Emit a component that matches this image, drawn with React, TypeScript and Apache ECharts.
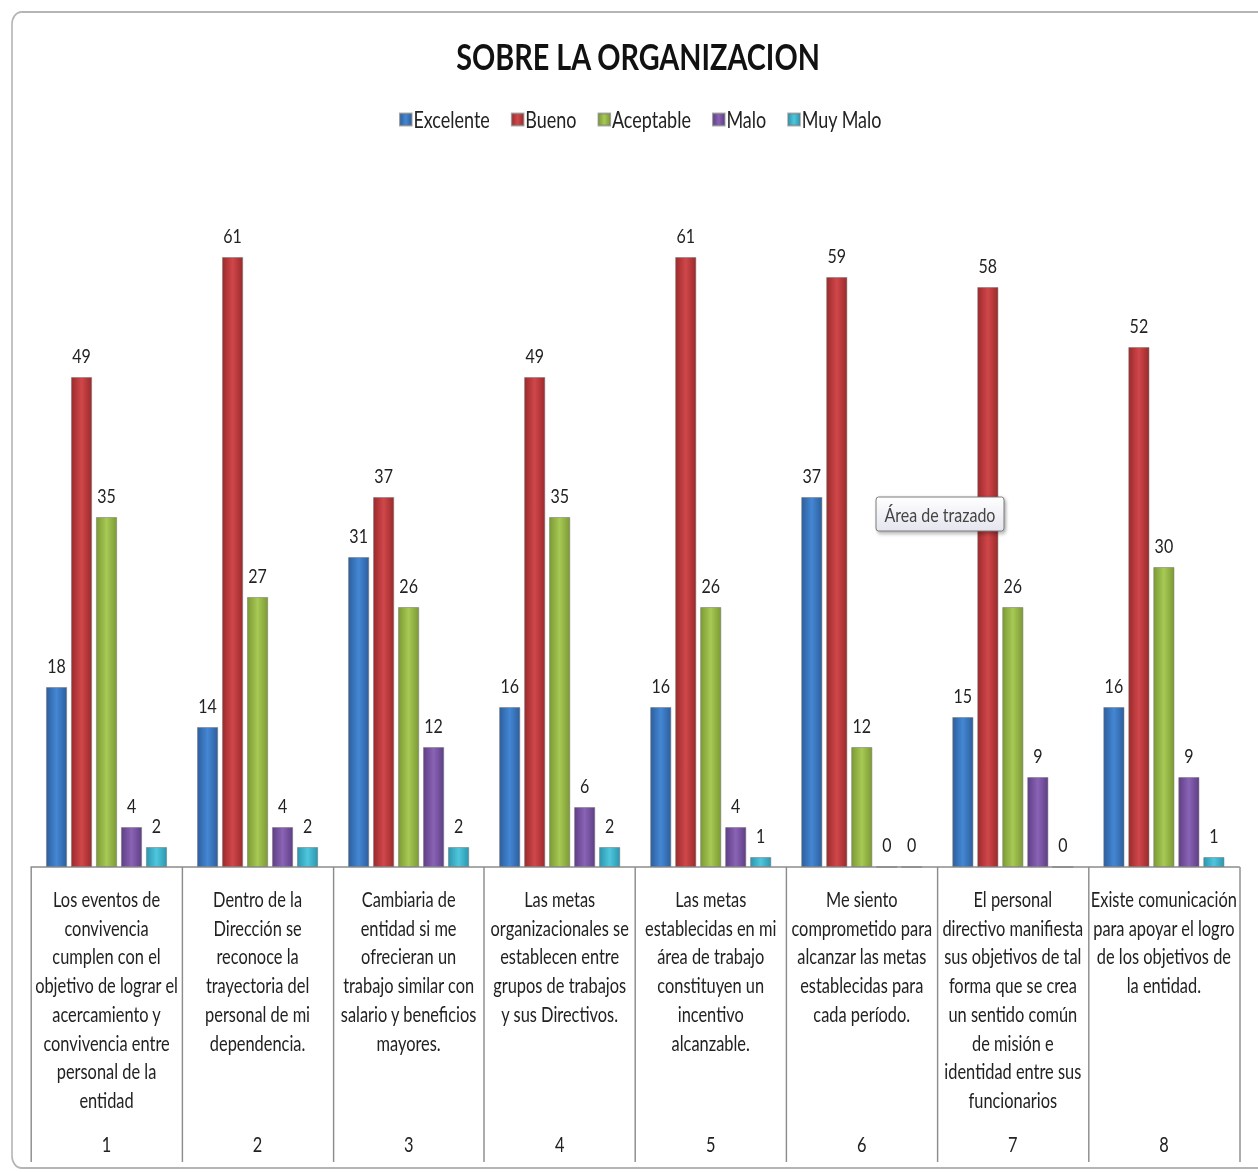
import React, { useEffect, useRef } from "react";
import * as echarts from "echarts";

const categories = [
  "Los eventos de\nconvivencia\ncumplen con el\nobjetivo de lograr el\nacercamiento y\nconvivencia entre\npersonal de la\nentidad",
  "Dentro de la\nDirección se\nreconoce la\ntrayectoria del\npersonal de mi\ndependencia.",
  "Cambiaria de\nentidad si me\nofrecieran un\ntrabajo similar con\nsalario y beneficios\nmayores.",
  "Las metas\norganizacionales se\nestablecen entre\ngrupos de trabajos\ny sus Directivos.",
  "Las metas\nestablecidas en mi\nárea de trabajo\nconstituyen un\nincentivo\nalcanzable.",
  "Me siento\ncomprometido para\nalcanzar las metas\nestablecidas para\ncada período.",
  "El personal\ndirectivo manifiesta\nsus objetivos de tal\nforma que se crea\nun sentido común\nde misión e\nidentidad entre sus\nfuncionarios",
  "Existe comunicación\npara apoyar el logro\nde los objetivos de\nla entidad.",
];
const categoryNumbers = ["1", "2", "3", "4", "5", "6", "7", "8"];

const seriesNames = ["Excelente", "Bueno", "Aceptable", "Malo", "Muy Malo"];
const excelente = [18, 14, 31, 16, 16, 37, 15, 16];
const bueno = [49, 61, 37, 49, 61, 59, 58, 52];
const aceptable = [35, 27, 26, 35, 26, 12, 26, 30];
const malo = [4, 4, 12, 6, 4, 0, 9, 9];
const muyMalo = [2, 2, 2, 2, 1, 0, 0, 1];

const seriesData = [excelente, bueno, aceptable, malo, muyMalo];
const colors = [
  ["#2d5f9e", "#4487d4", "#2d5f9e"],
  ["#9c2a2c", "#d0474a", "#9c2a2c"],
  ["#7c9a34", "#a7c955", "#7c9a34"],
  ["#5f3f86", "#8a63b5", "#5f3f86"],
  ["#2b97b0", "#4fc6dc", "#2b97b0"],
];

const FONT = "Lato, 'Liberation Sans', sans-serif";
// Excel-like condensed look: the whole drawing is squeezed horizontally
const SX = 0.8;
const W = 1258 / SX;
const H = 1172;
const px = (v: number) => v / SX; // page x -> internal x

export default function App() {
  const ref = useRef<HTMLDivElement>(null);
  useEffect(() => {
    document.body.style.margin = "0";
    const chart = echarts.init(ref.current!, undefined, { renderer: "svg" });
    const grad = (c: string[]) =>
      new echarts.graphic.LinearGradient(0, 0, 1, 0, [
        { offset: 0, color: c[0] },
        { offset: 0.5, color: c[1] },
        { offset: 1, color: c[2] },
      ]);
    chart.setOption({
      animation: false,
      backgroundColor: "#ffffff",
      title: {
        text: "SOBRE LA ORGANIZACION",
        left: px(634),
        textAlign: "center",
        top: 33,
        textStyle: { fontFamily: FONT, fontSize: 36, fontWeight: "bold", color: "#111" },
      },
      legend: {
        top: 103,
        left: px(395),
        itemWidth: px(12),
        itemHeight: 12,
        itemGap: px(21),
        icon: "rect",
        textStyle: { fontFamily: FONT, fontSize: 22.5, color: "#222", padding: [0, 0, 0, -3] },
        data: seriesNames,
      },
      grid: { left: px(31), right: W - px(1239), top: 167, bottom: 305, containLabel: false },
      xAxis: [
        {
          type: "category",
          data: categories,
          position: "bottom",
          axisLine: { show: true, lineStyle: { color: "#8c8c8c", width: 1.5 } },
          axisTick: { show: true, length: 295, lineStyle: { color: "#8c8c8c", width: 1.8 } },
          axisLabel: {
            interval: 0,
            margin: 18,
            fontFamily: FONT,
            fontSize: 20.5,
            lineHeight: 28.7,
            color: "#222",
            verticalAlign: "top",
          },
        },
        {
          type: "category",
          data: categoryNumbers,
          position: "bottom",
          axisLine: { show: false },
          axisTick: { show: false },
          axisLabel: {
            interval: 0,
            margin: 267,
            fontFamily: FONT,
            fontSize: 20.5,
            color: "#222",
            verticalAlign: "top",
          },
        },
      ],
      yAxis: { type: "value", min: 0, max: 70, show: false, splitLine: { show: false } },
      series: seriesNames.map((name, i) => ({
        name,
        type: "bar",
        xAxisIndex: 0,
        data: seriesData[i],
        barWidth: px(21),
        barGap: "19%",
        itemStyle: { color: grad(colors[i]), borderColor: "rgba(120,120,120,0.6)", borderWidth: 1 },
        label: {
          show: true,
          position: "top",
          distance: 12,
          fontFamily: FONT,
          fontSize: 20,
          color: "#222",
        },
      })),
      color: colors.map((c) => c[1]),
      graphic: [
        {
          type: "rect",
          shape: { x: px(12), y: 12, width: px(1260), height: 1156, r: 12 },
          style: { fill: "none", stroke: "#b5b5b5", lineWidth: 2 },
          silent: true,
          z: 100,
        },
        {
          type: "rect",
          z: 100,
          shape: { x: px(876), y: 497, width: px(128), height: 34, r: 3 },
          style: {
            fill: new echarts.graphic.LinearGradient(0, 0, 0, 1, [
              { offset: 0, color: "#ffffff" },
              { offset: 1, color: "#e4e5ee" },
            ]),
            stroke: "#6d6d6d",
            lineWidth: 1,
            shadowBlur: 4,
            shadowOffsetX: 2,
            shadowOffsetY: 2,
            shadowColor: "rgba(0,0,0,0.35)",
          },
        },
        {
          type: "text",
          z: 101,
          x: px(876 + 64),
          y: 514,
          style: {
            text: "Área de trazado",
            fontFamily: FONT,
            fontSize: 20,
            fill: "#444",
            align: "center",
            verticalAlign: "middle",
          },
        },
      ],
    });
    return () => chart.dispose();
  }, []);
  return (
    <div style={{ width: 1258, height: H, overflow: "hidden" }}>
      <div
        ref={ref}
        style={{ width: W, height: H, transform: `scaleX(${SX})`, transformOrigin: "0 0" }}
      />
    </div>
  );
}
